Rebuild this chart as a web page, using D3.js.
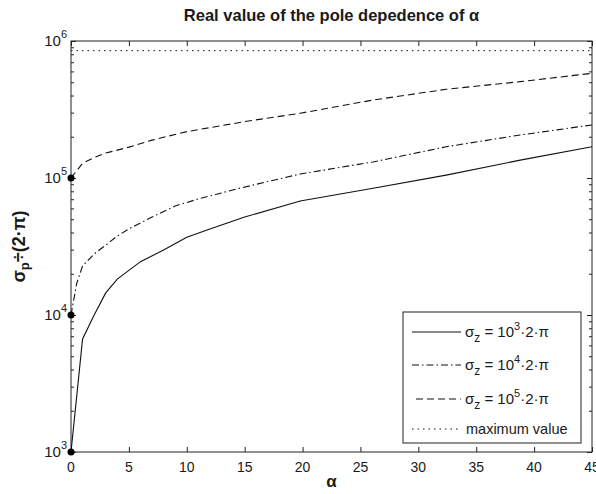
<!DOCTYPE html>
<html>
<head>
<meta charset="utf-8">
<script src="https://cdn.jsdelivr.net/npm/d3@7"></script>
<style>
  html, body { margin: 0; padding: 0; background: #fff; }
  svg { display: block; }
  text { font-family: "Liberation Sans", Arial, sans-serif; fill: #1a1a1a; }
</style>
</head>
<body>
<svg id="chart" width="596" height="494"></svg>
<script>
// Pole position sigma_p/(2*pi) as a function of alpha, for three zero positions.
const alphaLow   = [0, 1, 2, 3, 4, 6, 8, 10, 12, 15, 19.8, 26.1, 32.4, 38.8, 45];
const sigmaLow   = [1000, 6680, 10000, 14500, 18300, 24500, 29800, 37000, 42500, 51900, 67900, 84100, 105000, 135000, 169000];

const alphaMid   = [0, 0.5, 1, 2, 3, 4, 5, 7, 9, 11, 13, 14.3, 19.8, 26.1, 32.4, 38.8, 45];
const sigmaMid   = [10000, 17100, 22800, 27900, 32400, 37700, 42500, 51900, 62500, 70300, 77800, 83200, 107000, 131000, 169000, 206000, 244000];

const alphaHigh  = [0, 1, 2, 3, 5, 7, 10, 15, 19.8, 26.1, 32.4, 38.8, 45];
const sigmaHigh  = [100000, 128000, 141000, 152000, 168000, 189000, 218000, 258000, 297000, 371000, 444000, 505000, 581000];

const maxValue   = 850000;
const startPoints = [1000, 10000, 100000];

const xTicks = [0, 5, 10, 15, 20, 25, 30, 35, 40, 45];
const yDecades = [3, 4, 5, 6];

const legendExponents = ["3", "4", "5"];

(function draw() {
  const svg = d3.select("#chart");
  const mLeft = 71, mRight = 592, mTop = 41, mBottom = 452;

  const x = d3.scaleLinear().domain([0, 45]).range([mLeft, mRight]);
  const y = d3.scaleLog().domain([1e3, 1e6]).range([mBottom, mTop]);

  // clip region for the curves
  svg.append("defs").append("clipPath").attr("id", "plotClip")
    .append("rect").attr("x", mLeft).attr("y", mTop - 1)
    .attr("width", mRight - mLeft).attr("height", mBottom - mTop + 2);

  // x ticks (inward, bottom and top)
  svg.append("g").attr("transform", `translate(0,${mBottom})`)
    .call(d3.axisBottom(x).tickValues(xTicks).tickSize(-5).tickSizeOuter(0).tickFormat(""));
  svg.append("g").attr("transform", `translate(0,${mTop})`)
    .call(d3.axisTop(x).tickValues(xTicks).tickSize(-5).tickSizeOuter(0).tickFormat(""));

  // y ticks: log major/minor, inward on both sides
  const allY = y.ticks();
  const isMajor = v => Math.abs(Math.log10(v) - Math.round(Math.log10(v))) < 1e-9;
  const minorY = allY.filter(v => !isMajor(v));
  const majorY = yDecades.map(e => Math.pow(10, e));
  [[d3.axisLeft, mLeft], [d3.axisRight, mRight]].forEach(([ax, pos]) => {
    svg.append("g").attr("transform", `translate(${pos},0)`)
      .call(ax(y).tickValues(minorY).tickSize(-3).tickSizeOuter(0).tickFormat(""));
    svg.append("g").attr("transform", `translate(${pos},0)`)
      .call(ax(y).tickValues(majorY).tickSize(-5).tickSizeOuter(0).tickFormat(""));
  });
  svg.selectAll(".domain").remove();
  svg.selectAll(".tick line").attr("stroke", "#222").attr("stroke-width", 1);

  // axes box
  svg.append("rect").attr("x", mLeft).attr("y", mTop)
    .attr("width", mRight - mLeft).attr("height", mBottom - mTop)
    .attr("fill", "none").attr("stroke", "#222").attr("stroke-width", 1);

  // x tick labels
  svg.append("g").selectAll("text").data(xTicks).join("text")
    .attr("x", d => x(d)).attr("y", mBottom + 20)
    .attr("text-anchor", "middle").attr("font-size", 14).attr("fill", "#333")
    .text(d => d);

  // y tick labels 10^n
  const yl = svg.append("g").selectAll("text").data(yDecades).join("text")
    .attr("x", mLeft - 4).attr("y", d => y(Math.pow(10, d)) + 5)
    .attr("text-anchor", "end").attr("font-size", 15).attr("fill", "#333");
  yl.append("tspan").text("10");
  yl.append("tspan").attr("dy", -8).attr("font-size", 11).text(d => d);

  // curves
  const line = d3.line().x(d => x(d[0])).y(d => y(d[1]));
  const curves = [
    { a: alphaLow,  s: sigmaLow,  dash: null },
    { a: alphaMid,  s: sigmaMid,  dash: "7,3,1.5,3" },
    { a: alphaHigh, s: sigmaHigh, dash: "7,4" }
  ];
  const gPlot = svg.append("g").attr("clip-path", "url(#plotClip)");
  curves.forEach(c => {
    gPlot.append("path")
      .datum(d3.zip(c.a, c.s))
      .attr("d", line)
      .attr("fill", "none").attr("stroke", "#111").attr("stroke-width", 1.1)
      .attr("stroke-dasharray", c.dash);
  });
  gPlot.append("path")
    .datum([[0, maxValue], [45, maxValue]])
    .attr("d", line)
    .attr("fill", "none").attr("stroke", "#111").attr("stroke-width", 1)
    .attr("stroke-dasharray", "1.5,4");

  // starting points
  svg.append("g").selectAll("circle").data(startPoints).join("circle")
    .attr("cx", x(0)).attr("cy", d => y(d)).attr("r", 3.5).attr("fill", "#000");

  // title
  svg.append("text").attr("x", (mLeft + mRight) / 2).attr("y", 21)
    .attr("text-anchor", "middle").attr("font-size", 16.5).attr("font-weight", "bold")
    .text("Real value of the pole depedence of α");

  // x label
  svg.append("text").attr("x", (mLeft + mRight) / 2).attr("y", 487)
    .attr("text-anchor", "middle").attr("font-size", 17).attr("font-weight", "bold")
    .text("α");

  // y label
  const ylab = svg.append("text")
    .attr("transform", `translate(25,${(mTop + mBottom) / 2}) rotate(-90)`)
    .attr("text-anchor", "middle").attr("font-size", 18).attr("font-weight", "bold");
  ylab.append("tspan").text("σ");
  ylab.append("tspan").attr("dy", 4).attr("font-size", 13).text("p");
  ylab.append("tspan").attr("dy", -4).text("÷(2·π)");

  // legend
  const lg = svg.append("g");
  lg.append("rect").attr("x", 403).attr("y", 312).attr("width", 178).attr("height", 131)
    .attr("fill", "#fff").attr("stroke", "#222").attr("stroke-width", 1);
  const rowsY = [332, 365, 399, 429];
  const dashes = [null, "7,3,1.5,3", "7,4", "1.5,4"];
  const starts = [412, 412, 416, 412];
  rowsY.forEach((ry, i) => {
    lg.append("line").attr("x1", starts[i]).attr("x2", 461).attr("y1", ry).attr("y2", ry)
      .attr("stroke", "#111").attr("stroke-width", 1).attr("stroke-dasharray", dashes[i]);
  });
  legendExponents.forEach((e, i) => {
    const t = lg.append("text").attr("x", 465).attr("y", rowsY[i] + 5).attr("font-size", 15);
    t.append("tspan").text("σ");
    t.append("tspan").attr("dy", 5).attr("font-size", 12).text("z");
    t.append("tspan").attr("dy", -5).text(" = 10");
    t.append("tspan").attr("dy", -7).attr("font-size", 11).text(e);
    t.append("tspan").attr("dy", 7).text("·2·π");
  });
  lg.append("text").attr("x", 466).attr("y", rowsY[3] + 5).attr("font-size", 14.5)
    .text("maximum value");
})();
</script>
</body>
</html>
